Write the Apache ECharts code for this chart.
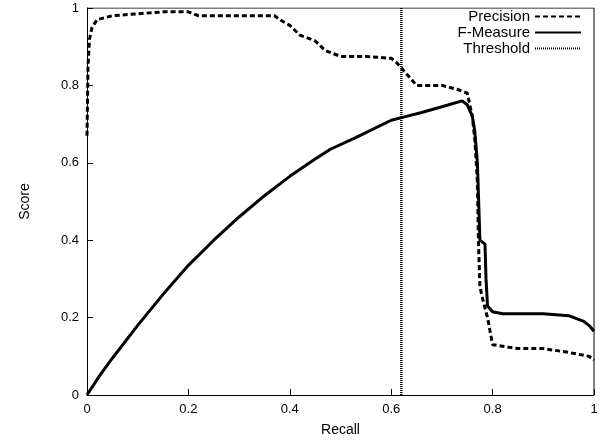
<!DOCTYPE html>
<html>
<head>
<meta charset="utf-8">
<script src="https://cdn.jsdelivr.net/npm/echarts@6/dist/echarts.min.js"></script>
<style>body{margin:0}#c{width:601px;height:447px}</style>
</head>
<body>
<div id="c"></div>
<script>
var precisionX = [0, 0.002, 0.005, 0.01, 0.02, 0.05, 0.1, 0.15, 0.2, 0.22, 0.3, 0.37, 0.38, 0.4, 0.42, 0.45, 0.47, 0.5, 0.55, 0.6, 0.61, 0.63, 0.65, 0.7, 0.73, 0.75, 0.755, 0.76, 0.765, 0.77, 0.772, 0.775, 0.78, 0.79, 0.8, 0.85, 0.9, 0.95, 0.99, 1];
var precisionY = [0.67, 0.85, 0.92, 0.95, 0.97, 0.98, 0.985, 0.99, 0.99, 0.98, 0.98, 0.98, 0.97, 0.955, 0.93, 0.915, 0.89, 0.875, 0.875, 0.87, 0.86, 0.83, 0.8, 0.8, 0.79, 0.78, 0.75, 0.72, 0.66, 0.55, 0.4, 0.28, 0.25, 0.2, 0.13, 0.12, 0.12, 0.11, 0.1, 0.09];
var fX = [0, 0.025, 0.05, 0.1, 0.15, 0.2, 0.25, 0.3, 0.35, 0.4, 0.45, 0.48, 0.53, 0.6, 0.63, 0.66, 0.7, 0.74, 0.75, 0.76, 0.765, 0.77, 0.775, 0.785, 0.787, 0.79, 0.8, 0.82, 0.9, 0.95, 0.98, 0.99, 1];
var fY = [0, 0.05, 0.095, 0.18, 0.26, 0.335, 0.4, 0.46, 0.515, 0.565, 0.61, 0.635, 0.665, 0.71, 0.72, 0.73, 0.745, 0.76, 0.75, 0.72, 0.68, 0.6, 0.4, 0.39, 0.3, 0.23, 0.215, 0.21, 0.21, 0.205, 0.19, 0.18, 0.165];
var threshold = 0.62;

function pairs(xs, ys) { return xs.map(function (x, i) { return [x, ys[i]]; }); }

var font = 'Liberation Sans';
var chart = echarts.init(document.getElementById('c'));
chart.setOption({
  animation: false,
  textStyle: { fontFamily: font },
  grid: { left: 87, right: 7, top: 8, bottom: 52 },
  legend: {
    orient: 'vertical', right: 14, top: 4, align: 'right', itemGap: 1,
    itemWidth: 46, itemHeight: 14,
    itemStyle: { opacity: 0 },
    textStyle: { fontFamily: font, fontSize: 15, color: '#000' },
    data: ['Precision', 'F-Measure', 'Threshold']
  },
  xAxis: {
    type: 'value', min: 0, max: 1, interval: 0.2, name: 'Recall',
    nameLocation: 'middle', nameGap: 28,
    nameTextStyle: { fontSize: 14, color: '#000' },
    axisLine: { lineStyle: { color: '#000' } },
    axisTick: { inside: true, length: 6, lineStyle: { color: '#000' } },
    axisLabel: { color: '#000', fontSize: 13 },
    splitLine: { show: false }
  },
  yAxis: {
    type: 'value', min: 0, max: 1, interval: 0.2, name: 'Score',
    nameLocation: 'middle', nameGap: 55,
    nameTextStyle: { fontSize: 14, color: '#000' },
    axisLine: { lineStyle: { color: '#000' } },
    axisTick: { inside: true, length: 6, lineStyle: { color: '#000' } },
    axisLabel: { color: '#000', fontSize: 13 },
    splitLine: { show: false }
  },
  series: [
    { name: 'Precision', type: 'line', symbol: 'none', data: pairs(precisionX, precisionY),
      lineStyle: { color: '#000', width: 3, type: [5, 3] }, itemStyle: { color: '#000' } },
    { name: 'F-Measure', type: 'line', symbol: 'none', data: pairs(fX, fY),
      lineStyle: { color: '#000', width: 3 }, itemStyle: { color: '#000' } },
    { name: 'Threshold', type: 'line', symbol: 'none', data: [[threshold, 0], [threshold, 1]],
      lineStyle: { color: '#000', width: 2.5, type: [1, 1] }, itemStyle: { color: '#000' } },
    { type: 'line', symbol: 'none', silent: true, data: [[0, 1], [1, 1], [1, 0]],
      lineStyle: { color: '#000', width: 1 } }
  ]
});
</script>
</body>
</html>
